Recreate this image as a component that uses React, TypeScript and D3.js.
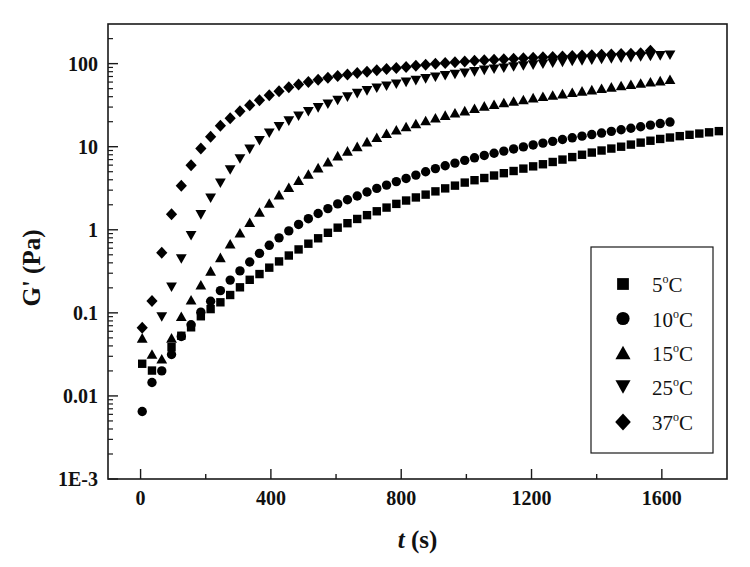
import React from 'react';
import * as d3 from 'd3';

const times = [5, 35, 65, 95, 125, 155, 185, 215, 245, 275, 305, 335, 365, 395, 425, 455, 485, 515, 545, 575, 605, 635, 665, 695, 725, 755, 785, 815, 845, 875, 905, 935, 965, 995, 1025, 1055, 1085, 1115, 1145, 1175, 1205, 1235, 1265, 1295, 1325, 1355, 1385, 1415, 1445, 1475, 1505, 1535, 1565, 1595, 1625, 1655, 1685, 1715, 1745, 1775];

const g5C = [0.0244, 0.0202, null, 0.0386, 0.053, 0.067, 0.091, 0.111, 0.134, 0.164, 0.203, 0.25, 0.293, 0.35, 0.416, 0.49, 0.58, 0.68, 0.79, 0.92, 1.06, 1.2, 1.35, 1.5, 1.67, 1.85, 2.05, 2.25, 2.45, 2.65, 2.9, 3.15, 3.4, 3.7, 3.95, 4.2, 4.5, 4.8, 5.1, 5.45, 5.8, 6.15, 6.55, 7.0, 7.5, 8.0, 8.5, 9.0, 9.5, 10.0, 10.6, 11.2, 11.8, 12.4, 12.9, 13.4, 13.9, 14.4, 14.9, 15.4];
const g10C = [0.0065, 0.0145, 0.02, 0.0315, 0.052, 0.072, 0.102, 0.138, 0.185, 0.248, 0.32, 0.41, 0.52, 0.65, 0.8, 0.97, 1.16, 1.36, 1.57, 1.8, 2.05, 2.3, 2.55, 2.85, 3.15, 3.45, 3.8, 4.15, 4.55, 5.0, 5.45, 5.9, 6.35, 6.85, 7.35, 7.85, 8.35, 8.85, 9.4, 9.95, 10.5, 11.05, 11.6, 12.2, 12.8, 13.4, 14.0, 14.6, 15.3, 16.0, 16.7, 17.4, 18.2, 19.0, 19.8];
const g15C = [0.05, 0.032, 0.028, 0.05, 0.091, 0.144, 0.218, 0.32, 0.465, 0.68, 0.92, 1.23, 1.64, 2.1, 2.65, 3.25, 3.95, 4.7, 5.6, 6.6, 7.8, 8.9, 10.1, 11.5, 13, 14.5, 16, 17.5, 19, 20.7, 22.3, 24, 25.6, 27.2, 29, 31, 32.5, 34, 35.5, 37, 39, 40.5, 42, 43.5, 45.3, 47, 48.7, 50.5, 52.5, 54.5, 56.5, 58.5, 60.5, 62.5, 65];
const g25C = [null, null, 0.089, 0.203, 0.444, 0.846, 1.51, 2.4, 3.63, 5.24, 7.1, 9.3, 11.8, 14.5, 17.4, 20.3, 23.3, 26.3, 29.3, 32.5, 36, 39.5, 43.5, 47, 50.5, 53.5, 56.5, 59.5, 62.5, 65.5, 68.5, 71.5, 74, 76.5, 79.5, 83, 85.5, 88, 91, 93.5, 96, 98.5, 101, 103.5, 106, 108, 110, 112, 114, 116, 118, 120, 122, 124, 126];
const g37C = [0.066, 0.139, 0.53, 1.54, 3.4, 6.0, 9.5, 13.2, 17.9, 22, 26.7, 31.6, 36.3, 41.7, 46.5, 52, 56, 60, 64, 67.5, 71, 74, 77, 80, 83, 86, 88.5, 91, 94, 97, 100, 102, 104, 106, 108, 110, 111.5, 113, 114.5, 116, 117.5, 119, 120.5, 122, 123.5, 125, 126.5, 128, 129, 130.5, 131.5, 133, 143];

const seriesNames = ['5', '10', '15', '25', '37'];
const seriesShapes = ['square', 'circle', 'triangleUp', 'triangleDown', 'diamond'];
const seriesValues = [g5C, g10C, g15C, g25C, g37C];

const xMajorTicks = [0, 400, 800, 1200, 1600];
const xMinorTicks = [200, 600, 1000, 1400];
const yMajorTicks = [1e-3, 0.01, 0.1, 1, 10, 100];
const yTickLabels = ['1E-3', '0.01', '0.1', '1', '10', '100'];

const W = 750, H = 567;
const L = 108, R = 727, T = 24, B = 479;
const FONT = '"Liberation Serif", "Times New Roman", serif';

const x = d3.scaleLinear().domain([-100, 1800]).range([L, R]);
const y = d3.scaleLog().domain([1e-3, 300]).range([B, T]);

function markerPath(shape: string, k: number): string {
  if (shape === 'square') {
    const s = 4.2 * k;
    return `M${-s},${-s}H${s}V${s}H${-s}Z`;
  }
  if (shape === 'circle') {
    const r = 4.7 * k;
    return `M${r},0A${r},${r} 0 1,1 ${-r},0A${r},${r} 0 1,1 ${r},0Z`;
  }
  if (shape === 'triangleUp') {
    const w = 5.4 * k, h = 4.8 * k;
    return `M0,${-h}L${w},${h}L${-w},${h}Z`;
  }
  if (shape === 'triangleDown') {
    const w = 5.4 * k, h = 4.8 * k;
    return `M0,${h}L${w},${-h}L${-w},${-h}Z`;
  }
  const w = 5.6 * k, h = 6.0 * k;
  return `M0,${-h}L${w},0L0,${h}L${-w},0Z`;
}

const yMinorTicks: number[] = [];
for (let e = -3; e <= 2; e++) {
  for (let m = 2; m <= 9; m++) {
    const v = m * Math.pow(10, e);
    if (v < 300) yMinorTicks.push(v);
  }
}

export default function App() {
  const legendRowY = [284, 318.5, 352.5, 387, 422];
  return (
    <svg width={W} height={H} style={{ position: 'absolute', left: 0, top: 0, background: '#fff' }}>
      <rect x={0} y={0} width={W} height={H} fill="#fff" />
      {/* data */}
      {seriesValues.map((vals, si) => (
        <g key={si}>
          {vals.map((v, i) =>
            v == null ? null : (
              <path
                key={i}
                d={markerPath(seriesShapes[si], 1)}
                transform={`translate(${x(times[i])},${y(v)})`}
                fill="#000"
              />
            )
          )}
        </g>
      ))}
      {/* frame */}
      <rect x={L} y={T} width={R - L} height={B - T} fill="none" stroke="#1a1a1a" strokeWidth={1.6} />
      {/* x ticks */}
      {xMajorTicks.map((t) => (
        <line key={'xm' + t} x1={x(t)} x2={x(t)} y1={B} y2={B - 10} stroke="#1a1a1a" strokeWidth={1.4} />
      ))}
      {xMinorTicks.map((t) => (
        <line key={'xn' + t} x1={x(t)} x2={x(t)} y1={B} y2={B - 5} stroke="#1a1a1a" strokeWidth={1.4} />
      ))}
      {xMajorTicks.map((t) => (
        <text key={'xl' + t} x={x(t)} y={B + 26} textAnchor="middle" fontFamily={FONT} fontWeight="bold" fontSize={20} fill="#111">
          {String(t)}
        </text>
      ))}
      {/* y ticks */}
      {yMajorTicks.map((t) => (
        <line key={'ym' + t} x1={L} x2={L + 10} y1={y(t)} y2={y(t)} stroke="#1a1a1a" strokeWidth={1.4} />
      ))}
      {yMinorTicks.map((t) => (
        <line key={'yn' + t} x1={L} x2={L + 5} y1={y(t)} y2={y(t)} stroke="#1a1a1a" strokeWidth={1.2} />
      ))}
      {yMajorTicks.map((t, i) => (
        <text key={'yl' + t} x={98} y={y(t) + 7} textAnchor="end" fontFamily={FONT} fontWeight="bold" fontSize={20} fill="#111">
          {yTickLabels[i]}
        </text>
      ))}
      {/* axis titles */}
      <text
        transform={`translate(40,${268}) rotate(-90)`}
        textAnchor="middle"
        fontFamily={FONT}
        fontWeight="bold"
        fontSize={25}
        fill="#111"
      >
        G' (Pa)
      </text>
      <text x={(L + R) / 2} y={548} textAnchor="middle" fontFamily={FONT} fontWeight="bold" fontSize={25} fill="#111">
        <tspan fontStyle="italic">t</tspan> (s)
      </text>
      {/* legend */}
      <rect x={591} y={247} width={122} height={206} fill="#fff" stroke="#1a1a1a" strokeWidth={1.2} />
      {seriesNames.map((n, i) => (
        <g key={'lg' + n}>
          <path d={markerPath(seriesShapes[i], 1.4)} transform={`translate(623,${legendRowY[i]})`} fill="#000" />
          <text x={652} y={legendRowY[i] + 8} fontFamily={FONT} fontSize={21} fill="#111">
            {n}
            <tspan fontSize={12} dy={-9}>o</tspan>
            <tspan dy={9}>C</tspan>
          </text>
        </g>
      ))}
    </svg>
  );
}
